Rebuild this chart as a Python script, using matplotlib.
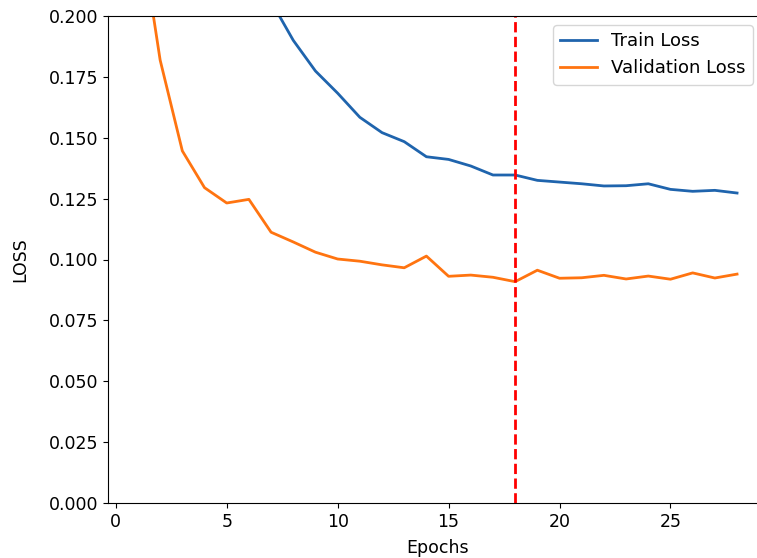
import matplotlib
matplotlib.use('Agg')
import matplotlib.pyplot as plt

# ---- data ----
epochs = list(range(1, 29))
train_loss = [0.600, 0.420, 0.330, 0.280, 0.245, 0.222, 0.206, 0.190,
              0.1774, 0.1683, 0.1584, 0.1521, 0.1484, 0.1422, 0.1411, 0.1384,
              0.1347, 0.1347, 0.1325, 0.1318, 0.1311, 0.1302, 0.1303, 0.1311,
              0.1288, 0.1280, 0.1284, 0.1273]
val_loss = [0.2415, 0.1819, 0.1446, 0.1295, 0.1232, 0.1247, 0.1112, 0.1072,
            0.1030, 0.1002, 0.0993, 0.0978, 0.0966, 0.1014, 0.0931, 0.0936,
            0.0927, 0.0909, 0.0956, 0.0923, 0.0925, 0.0935, 0.0920, 0.0932,
            0.0919, 0.0945, 0.0924, 0.0940]
best_epoch = 18

plt.rcParams['font.size'] = 12.5

fig = plt.figure(figsize=(7.57, 5.58), dpi=100)
ax = fig.add_axes([108 / 757, 55 / 558, 659 / 757, 487 / 558])

ax.plot(epochs, train_loss, color='#1f64ad', linewidth=2, label='Train Loss')
ax.plot(epochs, val_loss, color='#ff7410', linewidth=2, label='Validation Loss')
ax.axvline(best_epoch, color='red', linestyle='--', linewidth=2)

ax.set_ylim(0, 0.2)
ax.set_xlabel('Epochs', labelpad=6)
ax.set_ylabel('LOSS', labelpad=14)
ax.legend(loc='upper right', bbox_to_anchor=(0.992, 1.0), fontsize=13)

plt.savefig('out.png', dpi=100)
